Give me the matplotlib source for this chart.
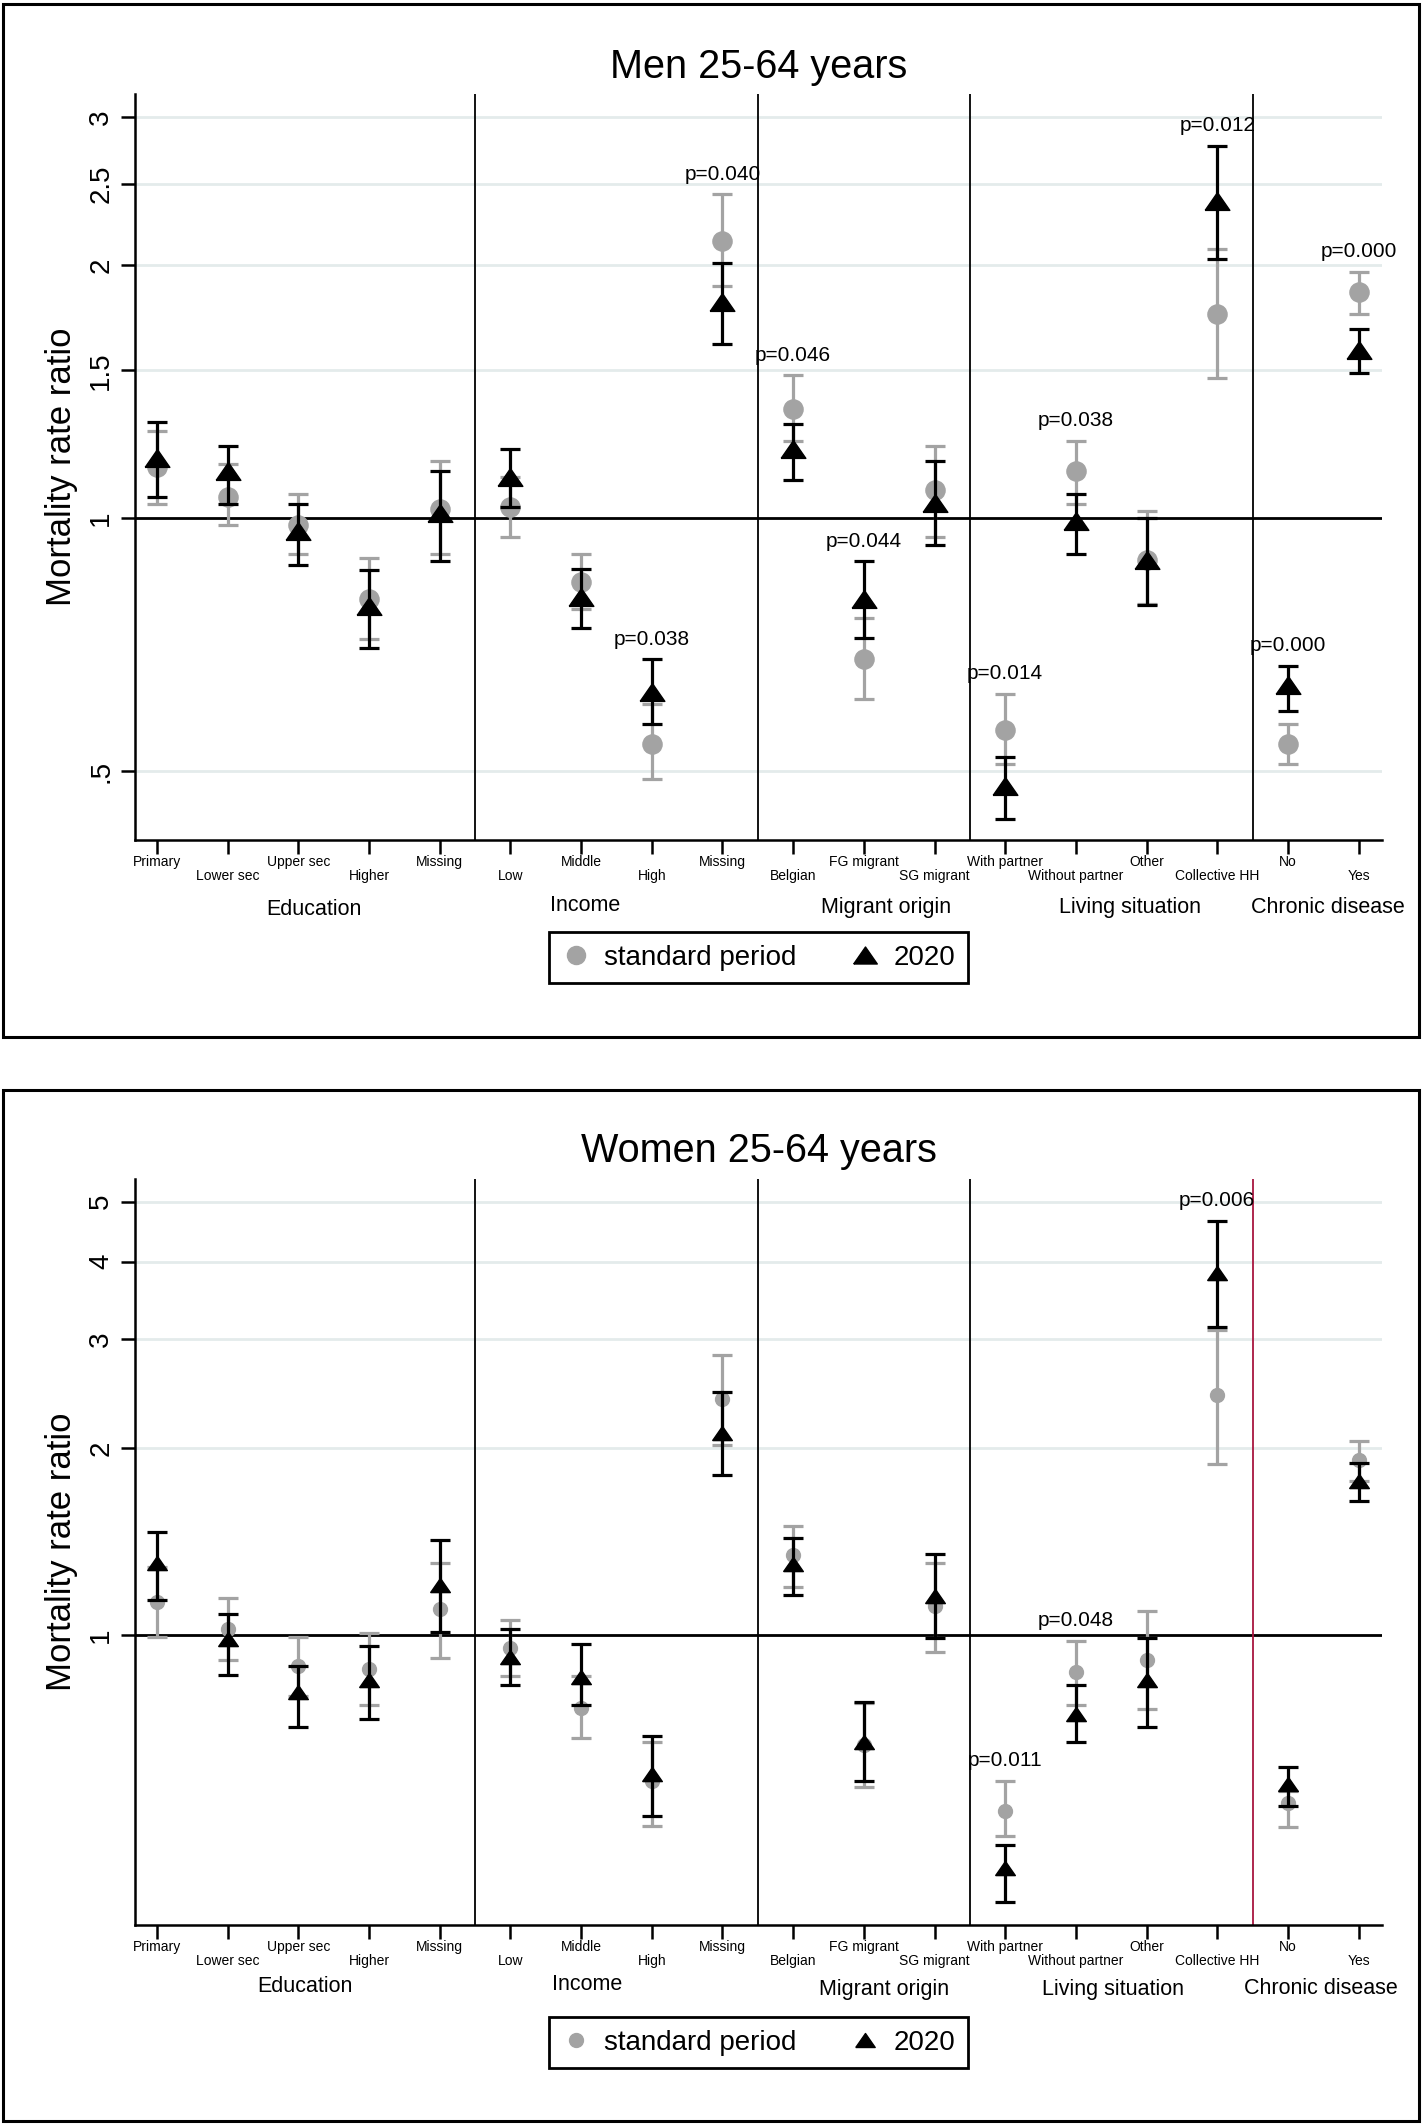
import numpy as np
import matplotlib
matplotlib.use('Agg')
import matplotlib.pyplot as plt
import matplotlib.transforms as mtransforms
from matplotlib.lines import Line2D
from matplotlib.patches import Rectangle
from matplotlib.ticker import FixedLocator, FixedFormatter, NullLocator

plt.rcParams['font.family'] = ['Liberation Sans', 'DejaVu Sans']

# ---- data ----
categories = ['Primary', 'Lower sec', 'Upper sec', 'Higher', 'Missing',
              'Low', 'Middle', 'High', 'Missing',
              'Belgian', 'FG migrant', 'SG migrant',
              'With partner', 'Without partner', 'Other', 'Collective HH',
              'No', 'Yes']
groups = ['Education', 'Income', 'Migrant origin', 'Living situation', 'Chronic disease']
group_sizes = [5, 4, 3, 4, 2]

# men 25-64
men_std = [1.15, 1.06, 0.98, 0.80, 1.026, 1.03, 0.84, 0.538, 2.14, 1.349, 0.68, 1.08,
           0.56, 1.139, 0.892, 1.75, 0.539, 1.857]
men_std_lo = [1.04, 0.98, 0.907, 0.718, 0.907, 0.95, 0.78, 0.489, 1.888, 1.237, 0.609, 0.95,
              0.51, 1.04, 0.79, 1.468, 0.51, 1.75]
men_std_hi = [1.27, 1.16, 1.068, 0.897, 1.17, 1.118, 0.907, 0.60, 2.43, 1.479, 0.76, 1.22,
              0.618, 1.237, 1.019, 2.089, 0.569, 1.966]
men_2020 = [1.18, 1.137, 0.964, 0.785, 1.013, 1.118, 0.806, 0.62, 1.81, 1.208, 0.802, 1.043,
            0.48, 0.991, 0.892, 2.384, 0.633, 1.586]
men_2020_lo = [1.06, 1.04, 0.879, 0.70, 0.889, 1.03, 0.74, 0.569, 1.61, 1.11, 0.72, 0.929,
               0.438, 0.907, 0.789, 2.032, 0.59, 1.49]
men_2020_hi = [1.30, 1.22, 1.04, 0.868, 1.139, 1.21, 0.87, 0.679, 2.01, 1.296, 0.889, 1.17,
               0.52, 1.068, 1.0, 2.777, 0.6675, 1.679]
men_pvals = {7: 'p=0.038', 8: 'p=0.040', 9: 'p=0.046', 10: 'p=0.044', 12: 'p=0.014',
             13: 'p=0.038', 15: 'p=0.012', 16: 'p=0.000', 17: 'p=0.000'}

# women 25-64
women_std = [1.13, 1.023, 0.8915, 0.883, 1.102, 0.954, 0.762, 0.582, 2.40, 1.346, 0.665, 1.116,
             0.521, 0.872, 0.912, 2.438, 0.537, 1.918]
women_std_lo = [0.995, 0.912, 0.797, 0.771, 0.919, 0.859, 0.683, 0.492, 2.026, 1.197, 0.570, 0.94,
                0.474, 0.771, 0.76, 1.889, 0.491, 1.775]
women_std_hi = [1.287, 1.15, 0.995, 1.0075, 1.309, 1.059, 0.859, 0.672, 2.825, 1.502, 0.776, 1.309,
                0.582, 0.98, 1.094, 3.10, 0.56, 2.057]
women_2020 = [1.309, 0.985, 0.811, 0.846, 1.203, 0.923, 0.857, 0.598, 2.12, 1.303, 0.672, 1.156,
              0.4206, 0.747, 0.846, 3.84, 0.575, 1.771]
women_2020_lo = [1.141, 0.861, 0.71, 0.732, 1.01, 0.831, 0.771, 0.511, 1.81, 1.161, 0.582, 0.99,
                 0.371, 0.672, 0.71, 3.136, 0.53, 1.643]
women_2020_hi = [1.468, 1.08, 0.8915, 0.961, 1.422, 1.023, 0.968, 0.689, 2.468, 1.432, 0.781, 1.353,
                 0.459, 0.831, 0.99, 4.66, 0.612, 1.894]
women_pvals = {12: 'p=0.011', 13: 'p=0.048', 15: 'p=0.006'}

men_yticks = [0.5, 1, 1.5, 2, 2.5, 3]
men_yticklabels = ['.5', '1', '1.5', '2', '2.5', '3']
women_yticks = [1, 2, 3, 4, 5]
women_yticklabels = ['1', '2', '3', '4', '5']

# ---- styling / layout ----
W, H = 1424, 2124
GRAY = '#a3a3a3'
GRID = '#e4ebeb'
RED = '#a8163f'
TRI = [(-1.25, -0.9), (1.25, -0.9), (0, 0.9), (-1.25, -0.9)]


def fx(px):
    return px / W


def fy(py):
    return 1 - py / H


fig = plt.figure(figsize=(W / 100, H / 100), dpi=100)

# panel frames
for top, bot in [(4, 1037), (1090, 2121)]:
    fig.patches.append(Rectangle((fx(2.5), fy(bot)), fx(1419) - fx(2.5), fy(top) - fy(bot),
                                 transform=fig.transFigure, fill=False, ec='black', lw=2.2))


def draw_panel(ax_top, ax_bot, title, title_y, std, std_lo, std_hi, new, new_lo, new_hi,
               pvals, yticks, yticklabels, ylim, sep_colors, ms_c, ms_t,
               group_x, group_dy, legend_y, leg_ms):
    ax = fig.add_axes([fx(135), fy(ax_bot), fx(1382) - fx(135), fy(ax_top) - fy(ax_bot)])
    x = np.arange(len(categories))
    std, std_lo, std_hi = map(np.array, (std, std_lo, std_hi))
    new, new_lo, new_hi = map(np.array, (new, new_lo, new_hi))

    ax.set_yscale('log')
    ax.set_ylim(*ylim)
    ax.set_xlim(-0.311, 17.33)

    for t in yticks:
        ax.axhline(t, color=GRID, lw=2.0, zorder=0)
    ax.axhline(1, color='black', lw=2.0, zorder=1)

    b = 0
    for n, c in zip(group_sizes[:-1], sep_colors):
        b += n
        ax.axvline(b - 0.5, color=c, lw=1.3, zorder=1)

    ax.errorbar(x, std, yerr=[std - std_lo, std_hi - std], fmt='o', color=GRAY, ms=ms_c,
                elinewidth=2.3, capsize=7, capthick=2.3, zorder=3)
    ax.errorbar(x, new, yerr=[new - new_lo, new_hi - new], fmt='none', ecolor='black',
                elinewidth=2.3, capsize=7, capthick=2.3, zorder=4)
    ax.plot(x, new, linestyle='none', marker=TRI, color='black', ms=ms_t, zorder=5)

    top_vals = np.maximum(std_hi, new_hi)
    for i, lab in pvals.items():
        ax.annotate(lab, (x[i], top_vals[i]), xytext=(0, 20), textcoords='offset pixels',
                    ha='center', va='center', fontsize=15)

    for s in ['top', 'right']:
        ax.spines[s].set_visible(False)
    for s in ['left', 'bottom']:
        ax.spines[s].set_linewidth(1.8)

    ax.yaxis.set_major_locator(FixedLocator(yticks))
    ax.yaxis.set_major_formatter(FixedFormatter(yticklabels))
    ax.yaxis.set_minor_locator(NullLocator())
    ax.tick_params(axis='y', length=10, width=1.8, labelsize=20, pad=5, labelrotation=90)
    for lbl in ax.get_yticklabels():
        lbl.set_va('center')
    ax.set_xticks(x)
    ax.set_xticklabels([])
    ax.tick_params(axis='x', length=10, width=1.8)

    base = mtransforms.blended_transform_factory(ax.transData, ax.transAxes)
    for i, lab in enumerate(categories):
        dy = -22 if i % 2 == 0 else -36
        tr = mtransforms.offset_copy(base, fig=fig, x=0, y=dy, units='dots')
        ax.text(i, 0, lab, transform=tr, ha='center', va='center', fontsize=10)
    for g, gx, gdy in zip(groups, group_x, group_dy):
        tr = mtransforms.offset_copy(base, fig=fig, x=0, y=gdy, units='dots')
        ax.text(gx, 0, g, transform=tr, ha='center', va='center', fontsize=15.5)

    fig.text(fx(758.5), fy(title_y), title, ha='center', va='center', fontsize=28.5)
    fig.text(fx(61), fy((ax_top + ax_bot) / 2), 'Mortality rate ratio', rotation=90,
             ha='center', va='center', fontsize=25)

    handles = [Line2D([], [], linestyle='none', marker='o', color=GRAY, ms=leg_ms[0]),
               Line2D([], [], linestyle='none', marker=TRI, color='black', ms=leg_ms[1])]
    leg = fig.legend(handles, ['standard period', '2020'], loc='center',
                     bbox_to_anchor=(fx(758.5), fy(legend_y)), ncol=2, fontsize=20,
                     frameon=True, fancybox=False, edgecolor='black', framealpha=1,
                     handlelength=1.0, handletextpad=0.5, columnspacing=2.0,
                     borderpad=0.45)
    leg.get_frame().set_linewidth(2.0)
    return ax


draw_panel(93.8, 839.8, 'Men 25-64 years', 67,
           men_std, men_std_lo, men_std_hi, men_2020, men_2020_lo, men_2020_hi,
           men_pvals, men_yticks, men_yticklabels, (0.414, 3.2),
           ['black'] * 4, 13.8, 17.8,
           [2.22, 6.05, 10.32, 13.76, 16.57], [-70, -66, -68, -68, -68], 958, (13, 17))

draw_panel(1178.9, 1925, 'Women 25-64 years', 1150.7,
           women_std, women_std_lo, women_std_hi, women_2020, women_2020_lo, women_2020_hi,
           women_pvals, women_yticks, women_yticklabels, (0.341, 5.44),
           ['black', 'black', 'black', RED], 10, 14.2,
           [2.10, 6.08, 10.29, 13.53, 16.47], [-62, -60, -64, -64, -63], 2042.5, (10, 14))

fig.savefig('out.png', dpi=100)
